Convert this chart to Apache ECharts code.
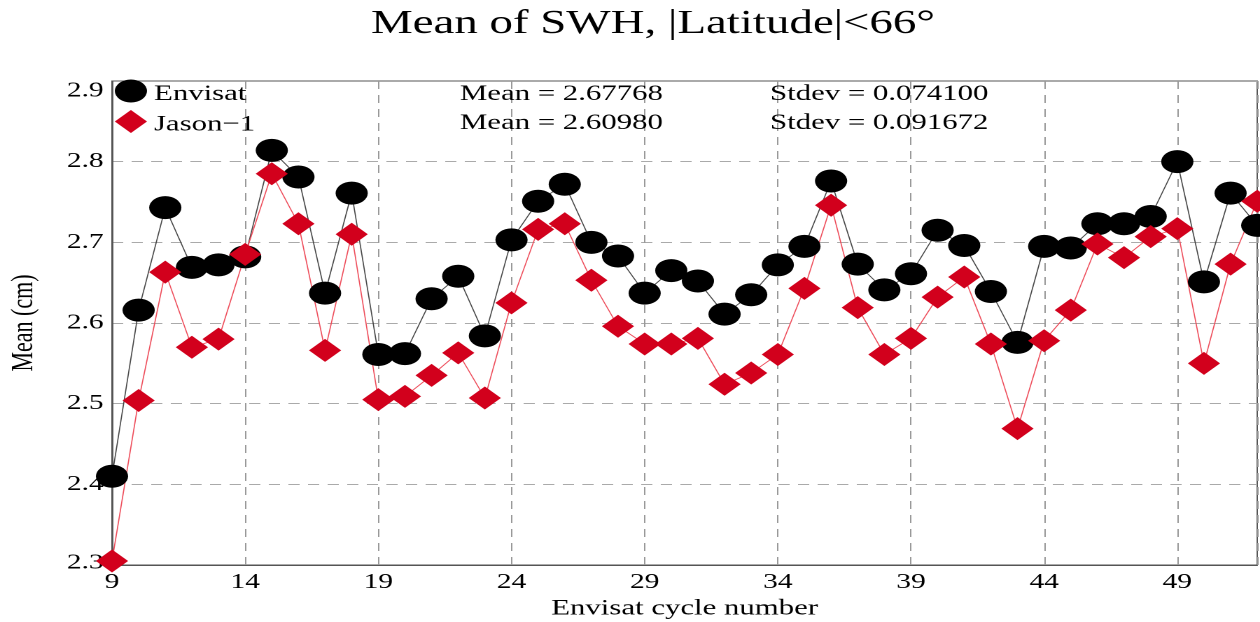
<!DOCTYPE html>
<html>
<head>
<meta charset="utf-8">
<script src="https://cdn.jsdelivr.net/npm/echarts@6/dist/echarts.min.js"></script>
<style>
  html, body { margin: 0; padding: 0; background: #fff; overflow: hidden; }
  #wrap { width: 1260px; height: 622px; overflow: hidden; }
  #chart { width: 900px; height: 622px; transform: scaleX(1.4); transform-origin: 0 0; }
</style>
</head>
<body>
<div id="wrap"><div id="chart"></div></div>
<script>
const cycles = [9,10,11,12,13,14,15,16,17,18,19,20,21,22,23,24,25,26,27,28,29,30,31,32,33,34,35,36,37,38,39,40,41,42,43,44,45,46,47,48,49,50,51,52];
const envisat = [2.410,2.616,2.743,2.669,2.672,2.682,2.814,2.781,2.637,2.761,2.561,2.562,2.630,2.658,2.584,2.703,2.751,2.772,2.700,2.683,2.637,2.665,2.652,2.611,2.635,2.672,2.695,2.776,2.673,2.641,2.661,2.715,2.696,2.639,2.576,2.695,2.693,2.723,2.723,2.732,2.800,2.651,2.761,2.721];
const jason1 = [2.305,2.504,2.663,2.570,2.580,2.685,2.785,2.723,2.566,2.710,2.505,2.509,2.535,2.563,2.507,2.625,2.716,2.723,2.653,2.596,2.574,2.574,2.581,2.524,2.538,2.561,2.643,2.746,2.619,2.561,2.581,2.632,2.657,2.574,2.469,2.578,2.616,2.698,2.681,2.707,2.717,2.550,2.673,2.751];
const seriesNames = ['Envisat', 'Jason\u22121'];
const statMeans = ['2.67768', '2.60980'];
const statStdevs = ['0.074100', '0.091672'];
const titleText = 'Mean of SWH, |Latitude|<66\u00b0';
const xName = 'Envisat cycle number';
const yName = 'Mean (cm)';

const FONT = '"Liberation Serif", "Times New Roman", serif';
const chart = echarts.init(document.getElementById('chart'), null, { devicePixelRatio: 2, renderer: 'canvas' });

function pairs(xs, ys) { return xs.map((x, i) => [x, ys[i]]); }

const statTexts = [];
[0, 1].forEach(i => {
  statTexts.push({
    type: 'text', x: 328.5, y: 94 + i * 29, z: 10,
    style: { text: 'Mean = ' + statMeans[i], fontSize: 22, fontFamily: FONT, fill: '#000', verticalAlign: 'middle' }
  });
  statTexts.push({
    type: 'text', x: 550, y: 94 + i * 29, z: 10,
    style: { text: 'Stdev = ' + statStdevs[i], fontSize: 22, fontFamily: FONT, fill: '#000', verticalAlign: 'middle' }
  });
});

const labelFont = { fontSize: 21, fontFamily: FONT, color: '#000' };

chart.setOption({
  animation: false,
  backgroundColor: '#fff',
  title: {
    text: titleText, left: 265, top: 7, padding: 0,
    textStyle: { fontSize: 33.5, fontWeight: 'normal', fontFamily: FONT, color: '#000' }
  },
  legend: {
    orient: 'vertical', left: 82, top: 79.5, padding: 0,
    itemWidth: 23, itemHeight: 23, itemGap: 5,
    data: [{ name: seriesNames[0], icon: 'circle' }, { name: seriesNames[1], icon: 'diamond' }],
    formatter: name => '{t|' + name + '}',
    textStyle: {
      fontSize: 22, fontFamily: FONT, color: '#000',
      rich: { t: { fontSize: 22, fontFamily: FONT, color: '#000', padding: [6, 0, 0, 0] } }
    },
    selectedMode: false
  },
  graphic: statTexts,
  grid: { left: 80, right: 2, top: 81, bottom: 57, show: true, borderColor: '#555', borderWidth: 1, containLabel: false, outerBoundsMode: 'none' },
  xAxis: {
    type: 'value', min: 9, max: 52, interval: 5,
    name: xName, nameLocation: 'middle', nameGap: 27,
    nameTextStyle: { fontSize: 22, fontFamily: FONT, color: '#000' },
    axisLine: { show: true, lineStyle: { color: '#555', width: 1 } },
    axisTick: { show: false },
    axisLabel: { fontSize: 21, fontFamily: FONT, color: '#000', margin: 7, showMaxLabel: false },
    splitLine: { show: true, lineStyle: { color: '#999', type: [8, 6], width: 1 } }
  },
  yAxis: {
    type: 'value', min: 2.3, max: 2.9, interval: 0.1,
    name: yName, nameLocation: 'middle', nameGap: 52, nameRotate: 90,
    nameTextStyle: { fontSize: 22, fontFamily: FONT, color: '#000' },
    axisLine: { show: true, lineStyle: { color: '#555', width: 1 } },
    axisTick: { show: false },
    axisLabel: {
      fontSize: 21, fontFamily: FONT, color: '#000', margin: 6,
      formatter: v => {
        const s = v.toFixed(1);
        if (s === '2.9') return '{hi|' + s + '}';
        if (s === '2.3') return '{lo|' + s + '}';
        return s;
      },
      rich: {
        hi: Object.assign({ padding: [20, 0, 0, 0] }, labelFont),
        lo: Object.assign({ padding: [0, 0, 4, 0] }, labelFont)
      }
    },
    splitLine: { show: true, lineStyle: { color: '#aaa', type: [8, 6], width: 1 } }
  },
  series: [
    {
      name: seriesNames[0], type: 'line', data: pairs(cycles, envisat),
      symbol: 'circle', symbolSize: 23, showAllSymbol: true,
      itemStyle: { color: '#000' },
      lineStyle: { color: '#444', width: 0.8 },
      emphasis: { disabled: true }, clip: false
    },
    {
      name: seriesNames[1], type: 'line', data: pairs(cycles, jason1),
      symbol: 'diamond', symbolSize: 23, showAllSymbol: true,
      itemStyle: { color: '#d2001c' },
      lineStyle: { color: '#ee4a58', width: 0.8 },
      emphasis: { disabled: true }, clip: false
    }
  ]
});
</script>
</body>
</html>
